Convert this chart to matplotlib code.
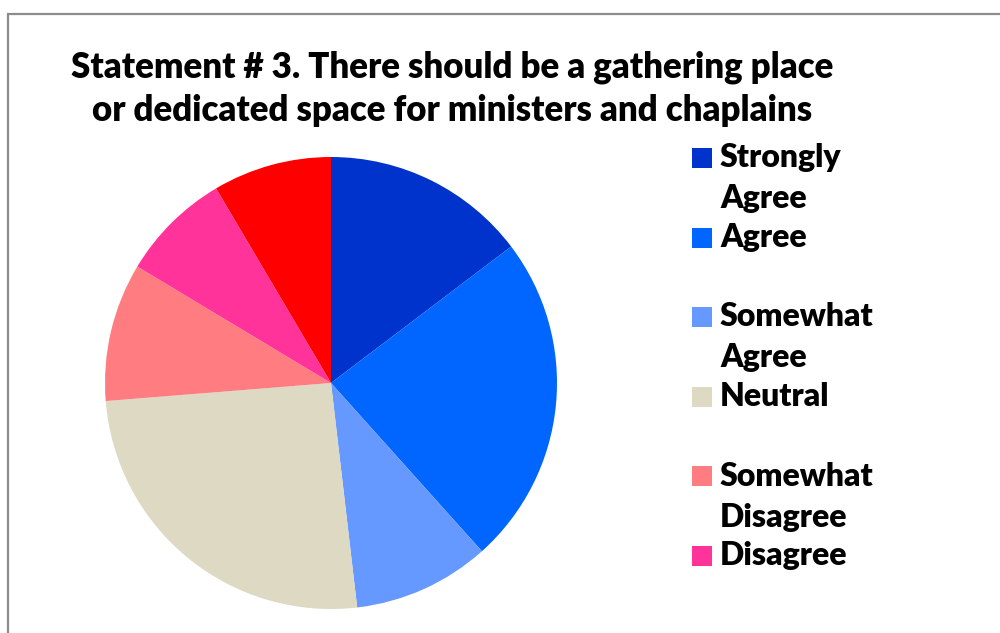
import matplotlib
matplotlib.use("Agg")
import matplotlib.pyplot as plt
from matplotlib.patches import Rectangle

# survey responses, share of respondents (%)
categories = ["Strongly Agree", "Agree", "Somewhat Agree", "Neutral",
              "Somewhat Disagree", "Disagree", "Strongly Disagree"]
shares = [14.7, 23.7, 9.8, 25.6, 9.9, 7.9, 8.5]
legend_lines = [["Strongly", "Agree"], ["Agree"], ["Somewhat", "Agree"], ["Neutral"],
                ["Somewhat", "Disagree"], ["Disagree"], ["Strongly", "Disagree"]]
colours = ["#0033CC", "#0066FF", "#6699FF", "#DDD9C3", "#FF7C80", "#FF3399", "#FF0000"]

title = "Statement # 3. There should be a gathering place\nor dedicated space for ministers and chaplains"

W, H = 1000, 633
plt.rcParams["font.family"] = ["Lato", "DejaVu Sans"]
fig = plt.figure(figsize=(W / 100, H / 100), dpi=100)

# chart frame, only top and left edges fall inside the canvas
fig.patches.append(Rectangle((8 / W, -0.2), 1.2, (H - 14) / H + 0.2, transform=fig.transFigure,
                             fill=False, edgecolor="#8c8c8c", linewidth=1.6))

cx, cy, r = 331, 383, 226
ax = fig.add_axes([(cx - r) / W, (H - cy - r) / H, 2 * r / W, 2 * r / H])
ax.pie(shares, colors=colours, startangle=90, counterclock=False, radius=1,
       wedgeprops=dict(linewidth=0))
ax.set_xlim(-1, 1)
ax.set_ylim(-1, 1)
ax.axis("off")

fig.text(452 / W, 1 - 89 / H, title, ha="center", va="center", fontsize=25,
         fontweight="heavy", linespacing=1.38)

# legend: swatch next to the first line of each entry, two lines per entry;
# entries that would start below the bottom edge are left out
y0 = 158
for i, (lines, col) in enumerate(zip(legend_lines, colours)):
    y = y0 + i * 79.5
    if y + 12 > H:
        break
    fig.patches.append(Rectangle((692 / W, 1 - (y + 10) / H), 20 / W, 20 / H,
                                 transform=fig.transFigure, facecolor=col, edgecolor="none"))
    for j, line in enumerate(lines):
        fig.text(720 / W, 1 - (y + j * 41) / H, line, ha="left", va="center",
                 fontsize=23, fontweight="heavy")

fig.savefig("out.png", dpi=100)
